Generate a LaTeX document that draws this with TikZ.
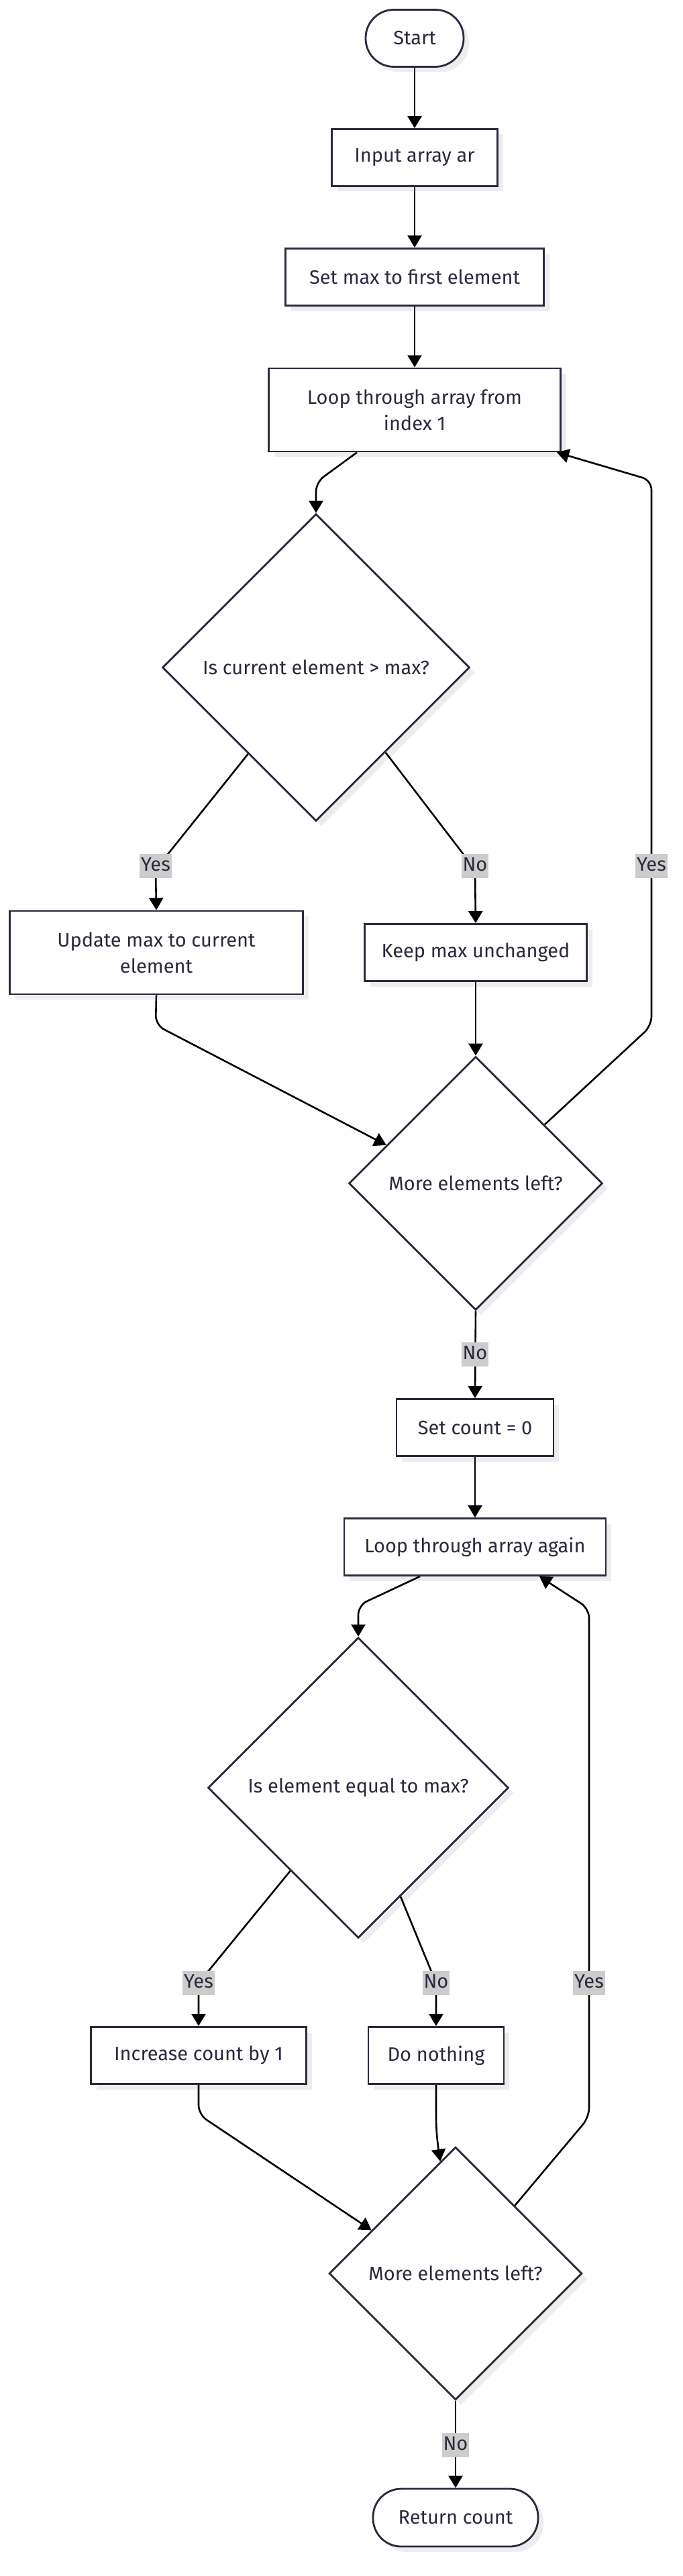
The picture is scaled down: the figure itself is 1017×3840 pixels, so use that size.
\documentclass[tikz,border=0pt]{standalone}
\usepackage{fontspec}
\setmainfont{Fira Sans}
\usetikzlibrary{shapes.geometric,arrows.meta,calc,shadows}
\definecolor{nodeborder}{HTML}{2A2A3E}
\definecolor{nodetext}{HTML}{2A2A3E}
\definecolor{lblbg}{HTML}{CCCCCC}
\begin{document}
\begin{tikzpicture}[x=1pt,y=-1pt,
  font=\fontsize{29}{39}\selectfont,
  base/.style={draw=nodeborder, line width=2.8pt, fill=white, text=nodetext, align=center, inner sep=0pt,
    drop shadow={shadow xshift=8pt,shadow yshift=-8pt,fill=black!7,opacity=1}},
  proc/.style={base, rectangle, minimum height=85pt},
  term/.style={base, rectangle, rounded corners=42pt, minimum height=85pt},
  dec/.style={base, diamond, aspect=1},
  arr/.style={draw=black, line width=2.6pt, -{Triangle[length=18pt,width=21pt]}, rounded corners=14pt},
  lbl/.style={fill=lblbg, text=nodetext, inner xsep=2pt, inner ysep=4.5pt, text height=21pt, text depth=6pt, font=\fontsize{29}{30}\selectfont}
]
\fill[white] (0,0) rectangle (1017,3840);
\useasboundingbox (0,0) rectangle (1017,3840);

\node[term, minimum width=146pt] (start) at (618,57) {Start};
\node[proc, minimum width=247pt] (input) at (618,235) {Input array ar};
\node[proc, minimum width=385pt] (setmax) at (618,413) {Set max to first element};
\node[proc, minimum width=435pt, minimum height=124pt] (loop) at (618,611) {Loop through array from\\index 1};
\node[dec, minimum width=458pt, minimum height=458pt] (d1) at (471,995) {Is current element > max?};
\node[proc, minimum width=437pt, minimum height=124pt] (update) at (233,1420) {Update max to current\\element};
\node[proc, minimum width=331pt] (keep) at (709,1420) {Keep max unchanged};
\node[dec, minimum width=378pt, minimum height=378pt] (d2) at (709,1764) {More elements left?};
\node[proc, minimum width=234pt] (setcount) at (708,2128) {Set count = 0};
\node[proc, minimum width=390pt] (loopagain) at (708,2306) {Loop through array again};
\node[dec, minimum width=448pt, minimum height=448pt] (d3) at (534,2665) {Is element equal to max?};
\node[proc, minimum width=321pt] (increase) at (296,3064) {Increase count by 1};
\node[proc, minimum width=202pt] (donothing) at (650,3064) {Do nothing};
\node[dec, minimum width=377pt, minimum height=377pt] (d4) at (679,3389) {More elements left?};
\node[term, minimum width=246pt, minimum height=86pt] (return) at (679,3753) {Return count};

\draw[arr] (start) -- (input);
\draw[arr] (input) -- (setmax);
\draw[arr] (setmax) -- (loop);
\draw[arr] ([xshift=-86pt]loop.south) -- (471,719) -- (d1.north);
\draw[arr] ($(d1.west)!0.56!(d1.south)$) -- (232,1296) -- (update.north);
\draw[arr] ($(d1.south)!0.45!(d1.east)$) -- (708,1296) -- (keep.north);
\draw[arr] (update.south) -- (232,1528) -- ($(d2.west)!0.3!(d2.north)$);
\draw[arr] (keep.south) -- (d2.north);
\draw[arr] ($(d2.north)!0.54!(d2.east)$) -- (971,1529) -- (971,716) -- ([xshift=212pt]loop.south);
\draw[arr] (d2.south) -- (setcount.north);
\draw[arr] (setcount) -- (loopagain);
\draw[arr] ([xshift=-82pt]loopagain.south) -- (534,2393) -- (d3.north);
\draw[arr] ($(d3.west)!0.55!(d3.south)$) -- (296,2956) -- (increase.north);
\draw[arr] ($(d3.south)!0.28!(d3.east)$) -- (650,2956) -- (donothing.north);
\draw[arr] (increase.south) -- (296,3152) -- ($(d4.west)!0.34!(d4.north)$);
\draw[arr] (donothing.south) -- (650,3140) .. controls (650,3180) and (653,3200) .. ($(d4.west)!0.88!(d4.north)$);
\draw[arr] ($(d4.north)!0.466!(d4.east)$) -- (878,3156) -- (878,2398) -- ([xshift=96pt]loopagain.south);
\draw[arr] (d4.south) -- (return.north);

\node[lbl] (l1) at (232,1291) {Yes};
\node[lbl] (l2) at (708,1291) {No};
\node[lbl] (l3) at (971,1291) {Yes};
\node[lbl] (l4) at (708,2019) {No};
\node[lbl] (l5) at (296,2956) {Yes};
\node[lbl] (l6) at (650,2956) {No};
\node[lbl] (l7) at (878,2956) {Yes};
\node[lbl] (l8) at (679,3645) {No};
\end{tikzpicture}
\end{document}
